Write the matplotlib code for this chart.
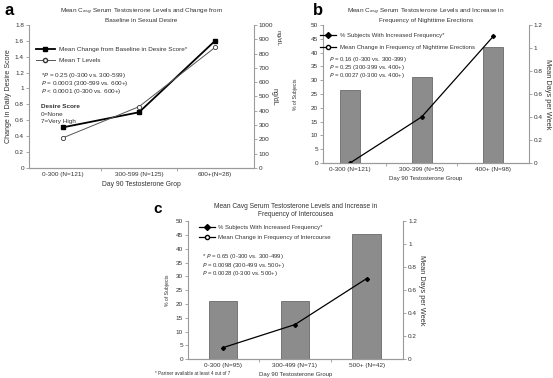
import matplotlib
matplotlib.use("Agg")
import matplotlib.pyplot as plt
from matplotlib.lines import Line2D

plt.rcParams['font.family'] = ['Liberation Sans', 'DejaVu Sans']

# --- data ---
groups_a = ["0-300 (N=121)", "300-599 (N=125)", "600+(N=28)"]
desire_change = [0.51, 0.70, 1.60]
t_levels = [210, 428, 843]

groups_b = ["0-300 (N=121)", "300-399 (N=55)", "400+ (N=98)"]
pct_b = [26.4, 31.0, 42.0]
days_b = [0.0, 0.40, 1.10]

groups_c = ["0-300 (N=95)", "300-499 (N=71)", "500+ (N=42)"]
pct_c = [21.0, 21.0, 45.5]
days_c = [0.10, 0.30, 0.70]

GREY = "#9a9a9a"
TXT = "#333333"
FS = 4.6


def style(ax):
    ax.spines["top"].set_visible(False)
    for s in ["left", "right", "bottom"]:
        ax.spines[s].set_color(GREY)
        ax.spines[s].set_linewidth(0.8)
    ax.tick_params(colors=GREY, labelcolor=TXT, labelsize=FS, length=2, width=0.6, pad=1.5)


def xcats(ax, labels, lim):
    ax.set_xlim(*lim)
    ax.set_xticks(range(len(labels)))
    ax.set_xticklabels(labels)
    ax.tick_params(axis="x", length=0, pad=3)
    ax.set_xticks([0.5, 1.5], minor=True)
    ax.tick_params(axis="x", which="minor", length=2, color=GREY)


fig = plt.figure(figsize=(5.53, 3.78), dpi=100)

# ---------------- panel a ----------------
ax = fig.add_axes([0.052, 0.556, 0.407, 0.378])
style(ax)
ax.spines["right"].set_visible(False)
x = range(len(groups_a))
ax.plot(x, desire_change, color="black", lw=1.3, marker="s", ms=3, zorder=3)
ax.set_ylim(0, 1.8)
ax.set_yticks([i * 0.2 for i in range(10)])
ax.set_yticklabels(["0", "0.2", "0.4", "0.6", "0.8", "1", "1.2", "1.4", "1.6", "1.8"])
xcats(ax, groups_a, (-0.45, 2.51))
ax.set_ylabel("Change in Daily Desire Score", fontsize=FS * 1.12, color=TXT, labelpad=2)
ax.set_xlabel("Day 90 Testosterone Grop", fontsize=FS * 1.05, color=TXT, labelpad=3)
ax2 = ax.twinx()
style(ax2)
ax2.spines["left"].set_visible(False)
ax2.plot(x, t_levels, color="#555555", lw=0.7, marker="o", ms=3, mfc="white", mec="#333333", mew=0.6)
ax2.set_ylim(0, 1000)
ax2.set_yticks(range(0, 1001, 100))
ax2.set_ylabel("ng/dL", fontsize=FS * 1.1, color=TXT, rotation=270, labelpad=3)
ax.set_title("Mean C$_{avg}$ Serum Testosterone Levels and Change from\nBaseline in Sexual Desire",
             fontsize=FS, color=TXT, pad=2, linespacing=1.2)
h = [Line2D([], [], color="black", lw=1.3, marker="s", ms=3),
     Line2D([], [], color="#555555", lw=0.7, marker="o", ms=3, mfc="white", mec="#333333")]
ax.legend(h, ["Mean Change from Baseline in Desire Score*", "Mean T Levels"],
          loc="upper left", bbox_to_anchor=(0.02, 0.865), frameon=False, fontsize=FS,
          handlelength=3, labelcolor=TXT, borderaxespad=0, handletextpad=0.6, labelspacing=0.9)
for yy, s in zip([0.643, 0.589, 0.535],
                 ["*$P$ = 0.25 (0-300 vs. 300-599)", "$P$ = 0.0003 (300-599 vs. 600+)",
                  "$P$ < 0.0001 (0-300 vs. 600+)"]):
    ax.text(0.053, yy, s, transform=ax.transAxes, fontsize=FS, color=TXT, va="center")
ax.text(0.053, 0.427, "Desire Score", transform=ax.transAxes, fontsize=FS, color=TXT,
        va="center", weight="bold")
ax.text(0.053, 0.375, "0=None", transform=ax.transAxes, fontsize=FS, color=TXT, va="center")
ax.text(0.053, 0.322, "7=Very High", transform=ax.transAxes, fontsize=FS, color=TXT, va="center")
fig.text(0.008, 0.972, "a", fontsize=12, weight="bold", va="center")


def bar_panel(rect, groups, pct, days, lim, width, title, leg2, ptexts, ptx, pty, leganchor,
              legspace, tpad, tfs, lpad, rpad):
    ax = fig.add_axes(rect)
    style(ax)
    ax.spines["right"].set_visible(False)
    x = range(len(groups))
    ax.bar(x, pct, width=width, color="#8c8c8c", edgecolor="#6a6a6a", lw=0.6)
    ax.set_ylim(0, 50)
    ax.set_yticks(range(0, 51, 5))
    xcats(ax, groups, lim)
    ax.set_ylabel("% of Subjects", fontsize=FS * 0.8, color=TXT, labelpad=lpad)
    ax.set_xlabel("Day 90 Testosterone Group", fontsize=FS * 0.95, color=TXT, labelpad=3)
    ax2 = ax.twinx()
    style(ax2)
    ax2.spines["left"].set_visible(False)
    ax2.plot(x, days, color="black", lw=0.9, marker="D", ms=2)
    ax2.set_ylim(0, 1.2)
    ax2.set_yticks([i * 0.2 for i in range(7)])
    ax2.set_yticklabels(["0", "0.2", "0.4", "0.6", "0.8", "1", "1.2"])
    ax2.set_ylabel("Mean Days per Week", fontsize=FS * 1.15, color=TXT, rotation=270, labelpad=rpad)
    ax.set_title(title, fontsize=tfs, color=TXT, pad=tpad, linespacing=1.2)
    h = [Line2D([], [], color="black", lw=0.9, marker="D", ms=3),
         Line2D([], [], color="black", lw=0.9, marker="o", ms=3, mfc="white")]
    ax.legend(h, ["% Subjects With Increased Frequency*", leg2],
              loc="upper left", bbox_to_anchor=leganchor, frameon=False, fontsize=FS * 0.95,
              handlelength=2.6, labelcolor=TXT, borderaxespad=0, handletextpad=0.6,
              labelspacing=legspace)
    for yy, s in zip(pty, ptexts):
        ax.text(ptx, yy, s, transform=ax.transAxes, fontsize=FS * 0.95, color=TXT, va="center")
    return ax


bar_panel([0.584, 0.569, 0.3725, 0.365], groups_b, pct_b, days_b, (-0.38, 2.5), 0.28,
          "Mean C$_{avg}$ Serum Testosterone Levels and Increase in\nFrequency of Nighttime Erections",
          "Mean Change in Frequency of Nighttime Erections",
          ["$P$ = 0.16 (0-300 vs. 300-399)", "$P$ = 0.25 (300-399 vs. 400+)",
           "$P$ = 0.0027 (0-300 vs. 400+)"],
          0.03, [0.75, 0.692, 0.634], (-0.025, 0.96), 1.05, 2, FS, 9, 6)
fig.text(0.566, 0.972, "b", fontsize=12, weight="bold", va="center")
fig.text(0.503, 0.90, "ng/dL", fontsize=FS, color=TXT, rotation=270, va="center", ha="center")

bar_panel([0.340, 0.050, 0.389, 0.365], groups_c, pct_c, days_c, (-0.49, 2.51), 0.4,
          "Mean Cavg Serum Testosterone Levels and Increase in\nFrequency of Intercousea",
          "Mean Change in Frequency of Intercourse",
          ["* $P$ = 0.65 (0-300 vs. 300-499)", "$P$ = 0.0098 (300-499 vs. 500+)",
           "$P$ = 0.0028 (0-300 vs. 500+)"],
          0.067, [0.745, 0.681, 0.617], (0.04, 0.99), 0.8, 4, FS * 1.04, 4, 6)
fig.text(0.277, 0.446, "c", fontsize=11, weight="bold", va="center")
fig.text(0.281, 0.013, "* Partner available at least 4 out of 7", fontsize=3.3, color=TXT, va="center")

fig.savefig("out.png", dpi=100)
